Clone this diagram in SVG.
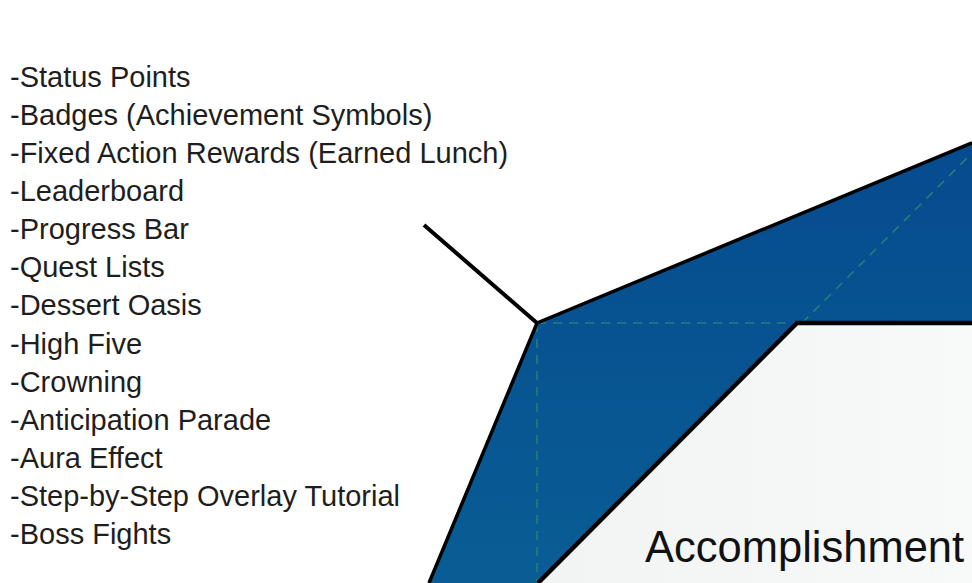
<svg xmlns="http://www.w3.org/2000/svg" width="972" height="583" viewBox="0 0 972 583">
  <defs>
    <linearGradient id="blueGrad" x1="0" y1="0" x2="0" y2="1">
      <stop offset="0" stop-color="#064b8f"/>
      <stop offset="1" stop-color="#095d94"/>
    </linearGradient>
    <linearGradient id="innerGrad" x1="0" y1="0" x2="1" y2="0">
      <stop offset="0" stop-color="#f1f4f2"/>
      <stop offset="1" stop-color="#f8f9f9"/>
    </linearGradient>
  </defs>
  <style>
    .list { font-family: "Liberation Sans", Arial, sans-serif; font-size: 29px; fill: #1e1e1e; }
    .label { font-family: "Liberation Sans", Arial, sans-serif; font-size: 43.5px; fill: #111; }
    .edge { fill: none; stroke: #000; stroke-linejoin: miter; }
    .grid { fill: none; stroke: #2a7d76; stroke-width: 1.6; stroke-dasharray: 9 7; }
  </style>
  <rect x="0" y="0" width="972" height="583" fill="#ffffff"/>

  <g id="outer-ring">
    <polygon points="537,323 972,142.8 972,583 429,583" fill="url(#blueGrad)"/>
    <g id="grid-lines">
      <line class="grid" x1="537" y1="323" x2="800" y2="323"/>
      <line class="grid" x1="537" y1="323" x2="537" y2="583"/>
      <line class="grid" x1="802" y1="323" x2="972" y2="153"/>
    </g>
    <polyline class="edge" stroke-width="3.5" points="972,142.8 537,323 429,583"/>
  </g>

  <g id="accomplishment">
    <polygon points="797,323 972,323 972,583 538,583" fill="url(#innerGrad)"/>
    <polyline class="edge" stroke-width="4.5" points="972,323 797,323 538,583"/>
    <text class="label" x="645" y="562">Accomplishment</text>
  </g>

  <g id="connectors">
    <line x1="424" y1="225" x2="537" y2="323" stroke="#000" stroke-width="4"/>
  </g>

  <g id="techniques-list">
    <text class="list" x="10" y="87">-Status Points</text>
    <text class="list" x="10" y="125">-Badges (Achievement Symbols)</text>
    <text class="list" x="10" y="163">-Fixed Action Rewards (Earned Lunch)</text>
    <text class="list" x="10" y="201">-Leaderboard</text>
    <text class="list" x="10" y="239">-Progress Bar</text>
    <text class="list" x="10" y="277">-Quest Lists</text>
    <text class="list" x="10" y="315">-Dessert Oasis</text>
    <text class="list" x="10" y="354">-High Five</text>
    <text class="list" x="10" y="392">-Crowning</text>
    <text class="list" x="10" y="430">-Anticipation Parade</text>
    <text class="list" x="10" y="468">-Aura Effect</text>
    <text class="list" x="10" y="506">-Step-by-Step Overlay Tutorial</text>
    <text class="list" x="10" y="544">-Boss Fights</text>
  </g>
</svg>
